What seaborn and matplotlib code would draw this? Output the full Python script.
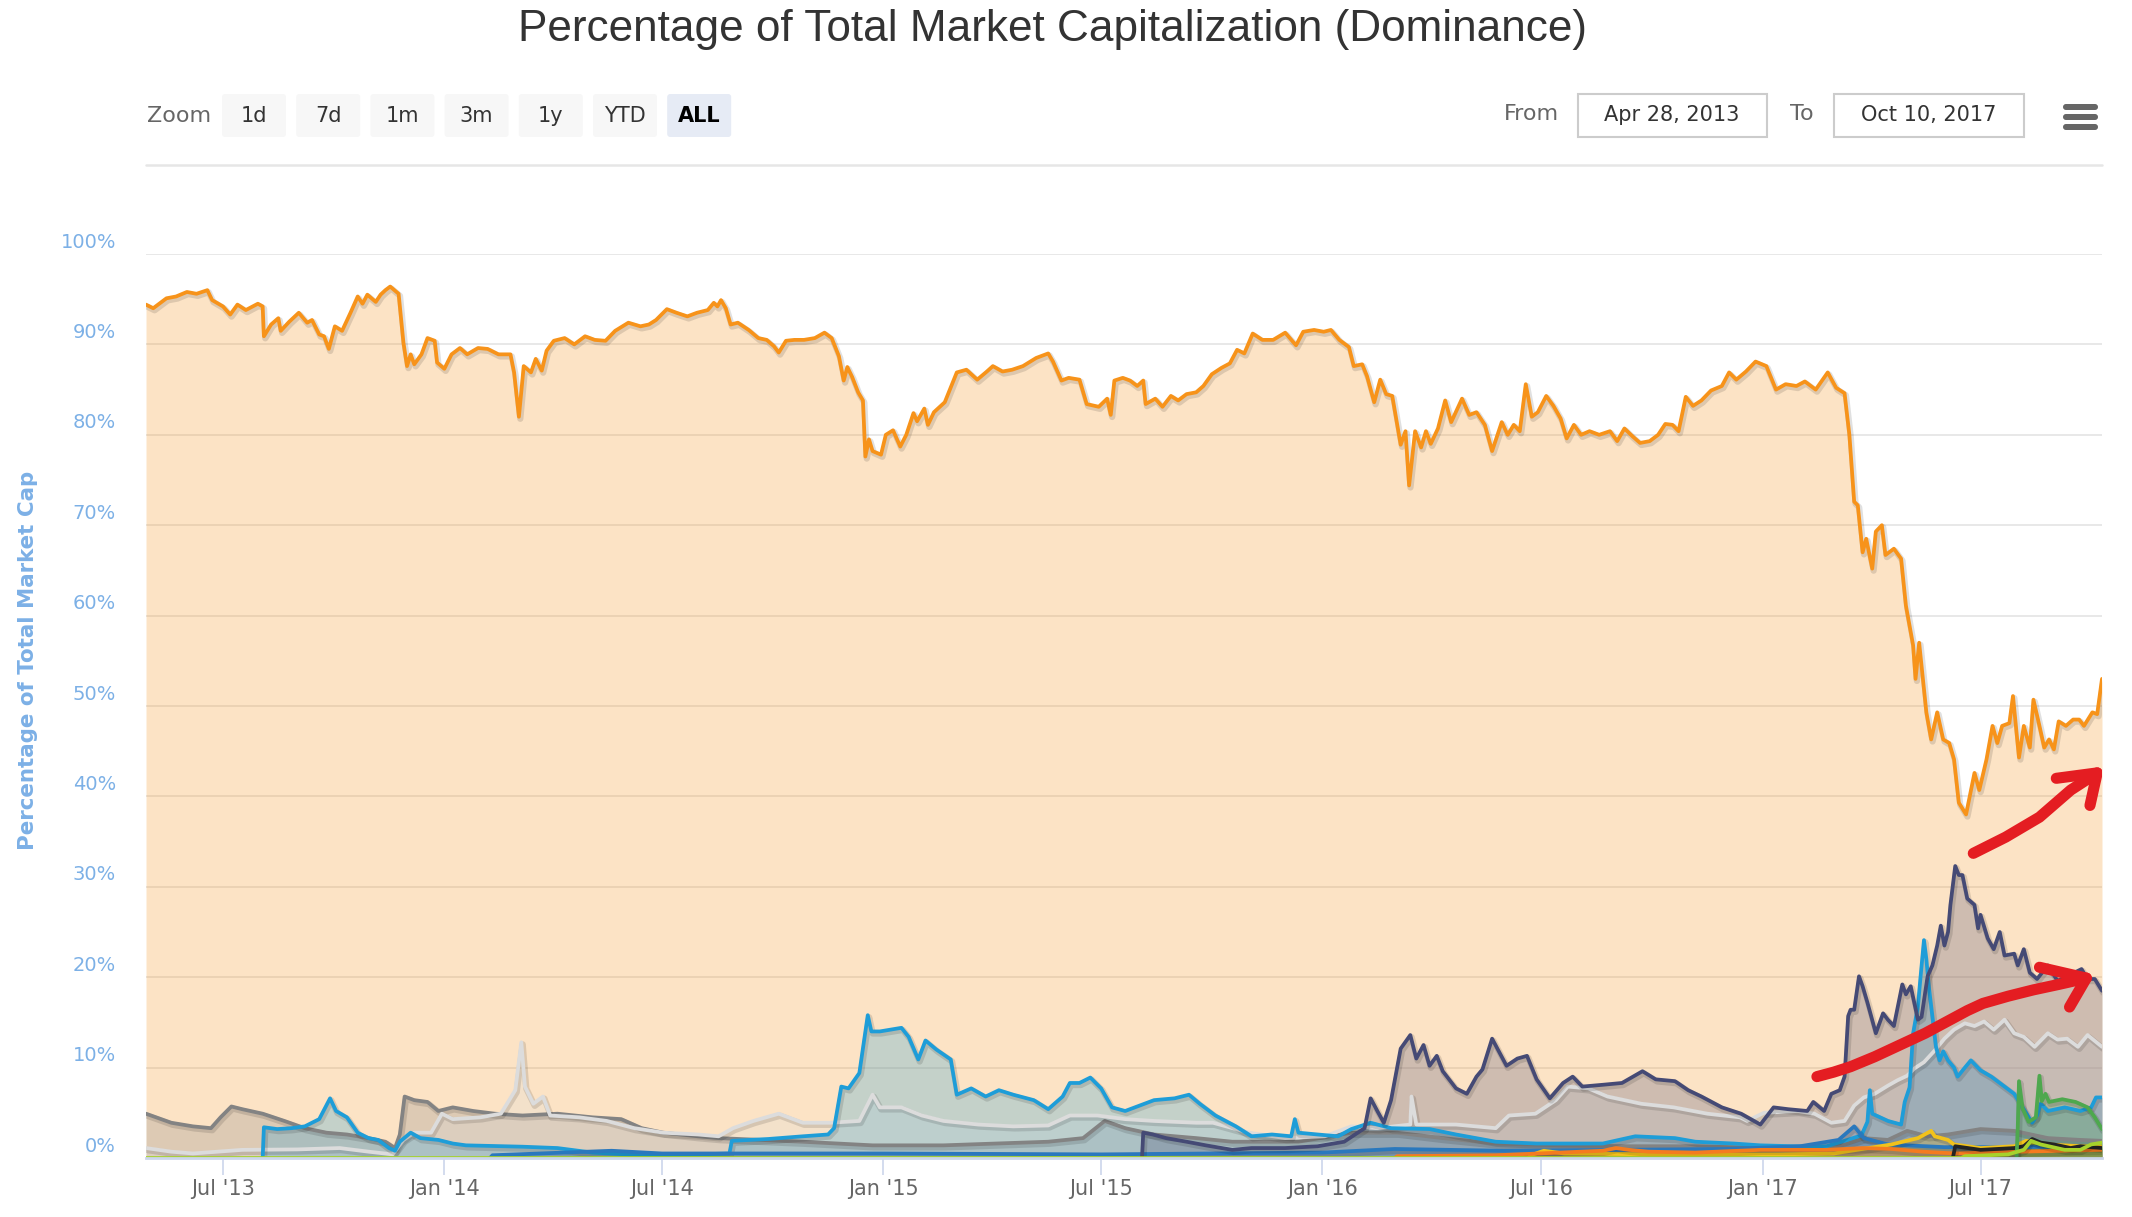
import pandas as pd
import matplotlib.pyplot as plt
import matplotlib.dates as mdates
import matplotlib.patheffects as pe
from matplotlib.patches import FancyBboxPatch, Rectangle
from matplotlib.transforms import ScaledTranslation
import seaborn as sns

START = pd.Timestamp("2013-04-28")

# Bitcoin dominance (%), x given as days after 28 Apr 2013
btc_day = [
    0, 6, 17, 25, 34, 42, 51, 55, 64, 70,
    76, 83, 93, 97, 98, 104, 110, 112, 119, 127,
    134, 138, 144, 148, 152, 157, 163, 170, 176, 180,
    184, 191, 195, 199, 203, 210, 214, 217, 220, 223,
    229, 234, 240, 242, 248, 254, 261, 267, 276, 284,
    293, 303, 306, 310, 314, 320, 324, 329, 333, 339,
    348, 356, 365, 373, 382, 390, 401, 411, 418, 424,
    433, 441, 450, 458, 467, 472, 475, 478, 482, 486,
    492, 501, 509, 516, 522, 526, 532, 539, 547, 556,
    564, 570, 576, 580, 583, 587, 592, 596, 598, 601,
    604, 611, 615, 621, 627, 632, 638, 641, 647, 650,
    655, 664, 674, 682, 691, 699, 704, 712, 720, 729,
    740, 750, 754, 761, 767, 776, 782, 792, 799, 802,
    805, 812, 818, 824, 829, 831, 839, 845, 852, 858,
    865, 873, 879, 886, 894, 901, 907, 913, 920, 928,
    937, 947, 956, 962, 971, 979, 985, 992, 1000, 1004,
    1011, 1015, 1021, 1026, 1031, 1036, 1043, 1047, 1050, 1055,
    1060, 1064, 1068, 1074, 1080, 1085, 1094, 1100, 1106, 1113,
    1119, 1127, 1132, 1137, 1142, 1147, 1152, 1157, 1164, 1170,
    1176, 1181, 1187, 1193, 1200, 1208, 1217, 1223, 1229, 1236,
    1242, 1250, 1257, 1263, 1269, 1274, 1280, 1286, 1293, 1301,
    1310, 1316, 1322, 1330, 1338, 1347, 1355, 1363, 1372, 1379,
    1388, 1398, 1405, 1412, 1416, 1420, 1423, 1427, 1430, 1435,
    1438, 1443, 1446, 1453, 1459, 1463, 1469, 1471, 1474, 1480,
    1484, 1489, 1494, 1499, 1503, 1507, 1513, 1520, 1524, 1530,
    1535, 1539, 1543, 1549, 1552, 1557, 1561, 1566, 1569, 1574,
    1578, 1582, 1586, 1590, 1596, 1602, 1607, 1611, 1618, 1622,
    1626]
btc_share = [
    94.4, 94.0, 95.1, 95.3, 95.8, 95.6, 96.0, 94.9, 94.2, 93.3,
    94.4, 93.8, 94.5, 94.2, 90.9, 92.2, 92.9, 91.5, 92.5, 93.5,
    92.4, 92.7, 91.1, 90.9, 89.5, 92.0, 91.5, 93.5, 95.3, 94.5,
    95.5, 94.7, 95.5, 96.0, 96.4, 95.6, 90.2, 87.6, 88.9, 87.8,
    88.9, 90.7, 90.4, 88.0, 87.3, 88.9, 89.6, 88.9, 89.6, 89.5,
    88.9, 88.9, 86.9, 82.0, 87.6, 86.9, 88.4, 87.1, 89.3, 90.4,
    90.7, 90.0, 90.9, 90.5, 90.4, 91.5, 92.4, 92.0, 92.2, 92.7,
    93.9, 93.5, 93.1, 93.5, 93.8, 94.6, 94.2, 94.9, 94.0, 92.2,
    92.4, 91.6, 90.7, 90.5, 89.8, 89.1, 90.4, 90.5, 90.5, 90.7,
    91.3, 90.7, 88.7, 86.0, 87.5, 86.4, 84.7, 83.8, 77.6, 79.5,
    78.2, 77.8, 80.0, 80.5, 78.7, 80.0, 82.4, 81.5, 82.9, 81.1,
    82.5, 83.6, 86.9, 87.2, 86.1, 87.0, 87.6, 87.0, 87.2, 87.6,
    88.5, 89.0, 88.1, 86.0, 86.3, 86.1, 83.4, 83.1, 84.0, 82.2,
    86.0, 86.3, 86.0, 85.4, 86.0, 83.4, 84.0, 83.1, 84.3, 83.8,
    84.5, 84.7, 85.4, 86.7, 87.4, 87.9, 89.4, 89.0, 91.2, 90.5,
    90.5, 91.3, 89.9, 91.4, 91.6, 91.4, 91.6, 90.5, 89.7, 87.6,
    87.8, 86.5, 83.6, 86.1, 84.5, 84.3, 78.9, 80.4, 74.4, 80.4,
    78.6, 80.4, 79.0, 80.7, 83.8, 81.4, 84.0, 82.2, 82.5, 81.1,
    78.2, 81.4, 80.0, 81.1, 80.4, 85.6, 82.0, 82.5, 84.3, 83.2,
    81.8, 79.6, 81.1, 80.0, 80.4, 80.0, 80.4, 79.3, 80.7, 79.8,
    79.1, 79.3, 80.0, 81.2, 81.1, 80.4, 84.2, 83.2, 83.8, 84.9,
    85.4, 86.9, 86.1, 87.0, 88.1, 87.6, 85.0, 85.6, 85.4, 85.9,
    85.0, 86.9, 85.2, 84.6, 80.0, 72.6, 72.2, 67.0, 68.5, 65.2,
    69.3, 70.0, 66.7, 67.4, 66.3, 61.1, 56.7, 53.0, 57.0, 49.3,
    46.3, 49.3, 46.3, 45.9, 44.1, 39.3, 38.0, 42.6, 40.7, 44.1,
    47.8, 45.9, 47.8, 48.1, 51.1, 44.3, 47.8, 45.4, 50.7, 47.8,
    45.4, 46.3, 45.2, 48.3, 47.8, 48.5, 48.5, 47.8, 49.3, 49.1,
    53.0]

eth_dates = [
    "2015-08-04", "2015-08-05", "2015-08-13", "2015-08-24", "2015-09-10", "2015-09-26", "2015-10-18", "2015-11-03", "2015-12-01", "2015-12-28",
    "2016-01-19", "2016-02-05", "2016-02-10", "2016-02-16", "2016-02-21", "2016-02-27", "2016-03-06", "2016-03-14", "2016-03-19", "2016-03-25",
    "2016-03-30", "2016-04-05", "2016-04-10", "2016-04-21", "2016-04-30", "2016-05-08", "2016-05-13", "2016-05-21", "2016-05-27", "2016-06-02",
    "2016-06-11", "2016-06-19", "2016-06-27", "2016-07-08", "2016-07-19", "2016-07-27", "2016-08-04", "2016-08-21", "2016-09-06", "2016-09-23",
    "2016-10-04", "2016-10-20", "2016-10-31", "2016-11-11", "2016-11-28", "2016-12-14", "2016-12-30", "2017-01-10", "2017-01-22", "2017-02-07",
    "2017-02-12", "2017-02-21", "2017-02-27", "2017-03-06", "2017-03-10", "2017-03-13", "2017-03-15", "2017-03-18", "2017-03-22", "2017-03-25",
    "2017-03-29", "2017-04-05", "2017-04-11", "2017-04-15", "2017-04-20", "2017-04-27", "2017-04-30", "2017-05-04", "2017-05-10", "2017-05-13",
    "2017-05-18", "2017-05-22", "2017-05-26", "2017-05-29", "2017-06-01", "2017-06-04", "2017-06-06", "2017-06-10", "2017-06-13", "2017-06-16",
    "2017-06-20", "2017-06-26", "2017-06-29", "2017-07-01", "2017-07-07", "2017-07-12", "2017-07-17", "2017-07-21", "2017-07-29", "2017-08-01",
    "2017-08-06", "2017-08-11", "2017-08-17", "2017-08-26", "2017-09-03", "2017-09-11", "2017-09-23", "2017-09-28", "2017-10-04", "2017-10-10"]
eth_share = [
    0.0, 2.8, 2.6, 2.2, 1.8, 1.4, 0.9, 1.1, 1.1, 1.3,
    1.8, 3.3, 6.6, 5.1, 3.9, 6.4, 12.1, 13.6, 11.0, 12.5,
    10.2, 11.3, 9.6, 7.7, 7.1, 9.0, 9.8, 13.2, 11.7, 10.2,
    11.0, 11.3, 8.7, 6.6, 8.3, 9.0, 7.9, 8.1, 8.3, 9.6,
    8.7, 8.5, 7.5, 6.8, 5.6, 4.9, 3.7, 5.6, 5.4, 5.2,
    6.2, 5.2, 7.1, 7.5, 9.0, 15.7, 16.4, 16.4, 20.1, 19.0,
    17.2, 13.8, 16.0, 15.3, 14.6, 19.2, 18.1, 19.0, 15.3, 15.6,
    20.1, 21.3, 23.5, 25.7, 23.5, 25.0, 28.0, 32.3, 31.3, 31.3,
    28.7, 28.0, 25.4, 26.9, 24.3, 23.1, 25.0, 22.4, 22.6, 21.3,
    23.1, 20.5, 19.8, 21.3, 19.6, 20.1, 20.9, 19.8, 19.8, 18.5]

xrp_dates = [
    "2013-08-03", "2013-08-04", "2013-08-15", "2013-08-27", "2013-09-07", "2013-09-19", "2013-09-28", "2013-10-03", "2013-10-12", "2013-10-21",
    "2013-10-30", "2013-11-07", "2013-11-16", "2013-11-21", "2013-11-25", "2013-12-04", "2013-12-12", "2013-12-27", "2014-01-08", "2014-01-19",
    "2014-03-07", "2014-04-05", "2014-05-04", "2014-06-02", "2014-07-02", "2014-07-31", "2014-08-26", "2014-08-28", "2014-09-27", "2014-10-26",
    "2014-11-16", "2014-11-21", "2014-11-27", "2014-12-03", "2014-12-12", "2014-12-19", "2014-12-22", "2014-12-29", "2015-01-07", "2015-01-16",
    "2015-01-22", "2015-01-30", "2015-02-05", "2015-02-14", "2015-02-26", "2015-03-03", "2015-03-15", "2015-03-27", "2015-04-07", "2015-04-19",
    "2015-05-06", "2015-05-18", "2015-05-30", "2015-06-05", "2015-06-13", "2015-06-22", "2015-07-01", "2015-07-10", "2015-07-21", "2015-08-02",
    "2015-08-14", "2015-08-31", "2015-09-12", "2015-09-21", "2015-10-04", "2015-10-21", "2015-11-03", "2015-11-20", "2015-12-06", "2015-12-09",
    "2015-12-12", "2015-12-28", "2016-01-14", "2016-01-25", "2016-02-10", "2016-02-27", "2016-03-30", "2016-04-21", "2016-05-24", "2016-06-27",
    "2016-08-21", "2016-09-17", "2016-10-20", "2016-11-06", "2016-12-08", "2016-12-30", "2017-01-27", "2017-02-23", "2017-03-10", "2017-03-24",
    "2017-03-29", "2017-03-31", "2017-04-02", "2017-04-15", "2017-04-26", "2017-04-29", "2017-05-03", "2017-05-06", "2017-05-10", "2017-05-12",
    "2017-05-15", "2017-05-17", "2017-05-19", "2017-05-22", "2017-05-25", "2017-05-28", "2017-05-31", "2017-06-04", "2017-06-09", "2017-06-12",
    "2017-06-18", "2017-06-23", "2017-07-01", "2017-07-10", "2017-07-18", "2017-07-29", "2017-08-06", "2017-08-13", "2017-08-17", "2017-08-20",
    "2017-08-26", "2017-09-09", "2017-09-22", "2017-10-01", "2017-10-05", "2017-10-10"]
xrp_share = [
    0.0, 3.4, 3.2, 3.3, 3.5, 4.3, 6.6, 5.2, 4.5, 2.8,
    2.2, 2.0, 1.1, 0.8, 1.8, 2.8, 2.2, 2.0, 1.6, 1.4,
    1.25, 1.1, 0.6, 0.4, 0.3, 0.4, 0.5, 1.9, 2.1, 2.4,
    2.6, 3.3, 7.9, 7.7, 9.4, 15.8, 14.0, 14.0, 14.2, 14.4,
    13.4, 10.9, 13.0, 12.0, 10.9, 7.0, 7.7, 6.8, 7.5, 7.0,
    6.4, 5.4, 6.8, 8.3, 8.3, 8.9, 7.7, 5.6, 5.2, 5.8,
    6.4, 6.6, 7.0, 6.0, 4.7, 3.5, 2.4, 2.6, 2.4, 4.3,
    2.8, 2.6, 2.4, 3.2, 3.9, 3.3, 3.2, 2.6, 1.8, 1.6,
    1.6, 2.4, 2.2, 1.8, 1.6, 1.4, 1.3, 1.3, 1.9, 2.5,
    4.0, 7.5, 4.9, 4.1, 3.7, 6.2, 7.8, 13.8, 16.8, 19.8,
    24.1, 22.0, 19.0, 15.7, 12.3, 10.8, 11.8, 10.8, 10.0, 9.0,
    10.0, 10.8, 9.7, 9.0, 8.2, 7.1, 5.4, 3.9, 4.7, 6.0,
    5.2, 5.6, 5.2, 5.6, 6.7, 6.7]

others_dates = [
    "2013-04-28", "2013-05-19", "2013-06-06", "2013-07-17", "2013-09-01", "2013-10-06", "2013-10-30", "2013-11-19", "2013-11-28", "2013-12-07",
    "2013-12-21", "2013-12-30", "2014-01-08", "2014-01-31", "2014-02-17", "2014-03-01", "2014-03-06", "2014-03-09", "2014-03-16", "2014-03-24",
    "2014-03-30", "2014-04-23", "2014-05-16", "2014-06-08", "2014-07-02", "2014-07-31", "2014-08-17", "2014-08-29", "2014-09-15", "2014-10-06",
    "2014-10-26", "2014-11-18", "2014-12-12", "2014-12-23", "2014-12-29", "2015-01-16", "2015-02-02", "2015-02-20", "2015-03-21", "2015-04-19",
    "2015-05-18", "2015-06-05", "2015-06-28", "2015-07-21", "2015-08-14", "2015-09-18", "2015-10-02", "2015-11-01", "2015-12-01", "2016-01-03",
    "2016-01-25", "2016-02-16", "2016-03-14", "2016-03-15", "2016-03-19", "2016-04-21", "2016-05-24", "2016-06-04", "2016-06-26", "2016-07-13",
    "2016-07-23", "2016-08-09", "2016-08-25", "2016-09-22", "2016-10-19", "2016-11-16", "2016-12-13", "2016-12-19", "2017-01-02", "2017-01-30",
    "2017-02-13", "2017-02-27", "2017-03-10", "2017-03-18", "2017-03-26", "2017-04-04", "2017-04-15", "2017-04-23", "2017-05-01", "2017-05-07",
    "2017-05-15", "2017-05-24", "2017-06-01", "2017-06-09", "2017-06-18", "2017-06-26", "2017-07-04", "2017-07-12", "2017-07-21", "2017-07-29",
    "2017-08-06", "2017-08-15", "2017-08-26", "2017-09-03", "2017-09-11", "2017-09-20", "2017-09-28", "2017-10-10"]
others_share = [
    1.1, 0.7, 0.5, 0.9, 0.95, 1.1, 0.7, 0.4, 2.0, 2.8,
    2.8, 4.9, 4.3, 4.5, 4.9, 7.5, 12.8, 7.9, 6.0, 6.8,
    4.7, 4.5, 4.1, 3.3, 2.8, 2.6, 2.4, 3.3, 4.1, 4.9,
    3.9, 3.9, 4.1, 7.0, 5.6, 5.6, 4.7, 4.1, 3.7, 3.5,
    3.6, 4.7, 4.7, 4.3, 4.1, 3.9, 3.9, 2.8, 2.2, 2.4,
    3.5, 3.3, 3.7, 6.8, 3.7, 3.7, 3.3, 4.7, 4.9, 6.4,
    7.9, 7.7, 6.8, 6.0, 5.6, 4.9, 4.5, 4.1, 5.0, 5.2,
    4.9, 3.9, 4.1, 5.8, 6.7, 7.1, 8.0, 8.6, 9.1, 9.9,
    10.6, 11.9, 13.2, 14.2, 14.9, 14.6, 15.1, 14.2, 15.3, 13.8,
    13.4, 12.3, 13.8, 13.1, 13.2, 12.3, 13.6, 12.3]

ltc_dates = [
    "2013-04-28", "2013-05-19", "2013-06-06", "2013-06-21", "2013-06-29", "2013-07-08", "2013-07-17", "2013-08-03", "2013-08-21", "2013-09-07",
    "2013-09-25", "2013-10-12", "2013-10-30", "2013-11-13", "2013-11-21", "2013-11-25", "2013-11-29", "2013-12-07", "2013-12-18", "2013-12-27",
    "2014-01-08", "2014-01-25", "2014-02-12", "2014-03-07", "2014-04-05", "2014-05-04", "2014-05-28", "2014-06-14", "2014-07-02", "2014-07-31",
    "2014-08-17", "2014-10-26", "2014-12-23", "2015-02-20", "2015-05-18", "2015-06-16", "2015-07-04", "2015-07-21", "2015-08-14", "2015-09-18",
    "2015-10-18", "2015-12-12", "2016-01-25", "2016-03-03", "2016-04-10", "2016-05-24", "2016-07-19", "2016-09-12", "2016-11-06", "2016-12-30",
    "2017-02-23", "2017-03-10", "2017-03-26", "2017-04-15", "2017-05-01", "2017-05-18", "2017-06-04", "2017-07-01", "2017-07-29", "2017-08-26",
    "2017-09-22", "2017-10-10"]
ltc_share = [
    4.9, 3.9, 3.5, 3.3, 4.5, 5.7, 5.4, 4.9, 4.1, 3.3,
    2.8, 2.6, 2.2, 1.8, 1.1, 2.6, 6.8, 6.4, 6.2, 5.2,
    5.6, 5.2, 4.9, 4.7, 4.9, 4.5, 4.3, 3.3, 2.8, 2.4,
    2.2, 1.8, 1.4, 1.4, 1.8, 2.2, 4.1, 3.3, 2.6, 2.2,
    1.8, 1.8, 2.8, 2.8, 2.2, 1.6, 1.4, 1.3, 1.3, 1.1,
    1.1, 1.5, 2.2, 2.0, 3.0, 2.4, 2.6, 3.2, 3.0, 2.2,
    2.0, 1.9]

dash_dates = ["2014-02-08", "2014-02-10", "2014-05-20", "2014-07-01", "2015-01-01", "2015-07-01", "2016-01-01", "2016-03-01",
              "2016-06-01", "2016-12-01", "2017-02-01", "2017-03-05", "2017-03-18", "2017-03-26", "2017-04-15", "2017-06-01",
              "2017-08-01", "2017-10-10"]
dash_share = [0.0, 0.3, 0.8, 0.5, 0.5, 0.4, 0.6, 1.0, 0.8, 1.0, 1.3, 2.0, 3.5, 2.2, 1.5, 1.2, 1.2, 1.3]

nem_dates = ["2016-06-20", "2016-06-22", "2016-07-03", "2016-07-20", "2016-10-01", "2017-01-15", "2017-03-01", "2017-04-18",
             "2017-05-10", "2017-05-21", "2017-05-24", "2017-06-04", "2017-06-09", "2017-07-01", "2017-07-29", "2017-08-08",
             "2017-08-26", "2017-09-22", "2017-10-10"]
nem_share = [0.0, 0.3, 0.8, 0.5, 0.4, 0.4, 0.5, 1.5, 2.2, 3.0, 2.4, 2.0, 1.5, 1.1, 1.3, 1.9, 1.5, 1.3, 1.3]

xmr_dates = ["2016-03-01", "2016-03-03", "2016-05-24", "2016-08-21", "2016-09-01", "2016-09-12", "2016-09-28", "2016-11-06",
             "2016-12-30", "2017-02-23", "2017-03-25", "2017-04-18", "2017-05-14", "2017-06-10", "2017-08-03", "2017-10-10"]
xmr_share = [0.0, 0.2, 0.3, 0.8, 1.1, 0.9, 0.7, 0.6, 0.9, 0.9, 1.1, 1.0, 0.7, 0.5, 0.7, 0.9]

iota_dates = ["2017-06-08", "2017-06-10", "2017-07-01", "2017-07-29", "2017-08-06", "2017-08-13", "2017-08-20", "2017-08-31",
              "2017-09-14", "2017-09-22", "2017-10-10"]
iota_share = [0.0, 1.3, 0.9, 1.1, 1.3, 2.1, 1.7, 1.5, 1.1, 1.3, 1.1]

bch_dates = ["2017-07-31", "2017-08-01", "2017-08-02", "2017-08-05", "2017-08-10", "2017-08-16", "2017-08-19", "2017-08-21",
             "2017-08-24", "2017-08-27", "2017-09-07", "2017-09-18", "2017-09-28", "2017-10-04", "2017-10-10"]
bch_share = [0.0, 3.5, 8.5, 5.5, 4.0, 4.5, 9.1, 6.3, 7.1, 6.2, 6.5, 6.2, 5.6, 4.5, 3.2]

neo_dates = ["2013-04-28", "2017-06-15", "2017-06-18", "2017-07-24", "2017-08-06", "2017-08-12", "2017-08-20", "2017-09-09",
             "2017-09-22", "2017-10-01", "2017-10-10"]
neo_share = [0.0, 0.0, 0.2, 0.4, 0.9, 1.9, 1.5, 0.9, 0.9, 1.5, 1.7]

# hand drawn red arrows on the screenshot
arrow1_dates = ["2017-06-25", "2017-07-22", "2017-08-19", "2017-09-14", "2017-10-06"]
arrow1_pct = [33.7, 35.5, 37.7, 40.7, 42.6]
arrow1_head_dates = ["2017-09-02", "2017-10-06", "2017-09-30"]
arrow1_head_pct = [42.0, 42.6, 39.0]
arrow2_dates = ["2017-02-15", "2017-03-01", "2017-03-15", "2017-04-04", "2017-04-25", "2017-05-16", "2017-06-06",
                "2017-06-20", "2017-07-03", "2017-07-24", "2017-08-14", "2017-09-04", "2017-09-24", "2017-09-27"]
arrow2_pct = [9.0, 9.5, 10.1, 11.2, 12.5, 13.8, 15.3, 16.3, 17.1, 17.9, 18.6, 19.2, 19.8, 19.9]
arrow2_head_dates = ["2017-08-19", "2017-09-27", "2017-09-13"]
arrow2_head_pct = [21.1, 19.9, 16.7]

btc_dates = list(START + pd.to_timedelta(btc_day, unit="D"))

series = [
    ("Bitcoin", btc_dates, btc_share, "#f7931a"),
    ("Litecoin", ltc_dates, ltc_share, "#838383"),
    ("Others", others_dates, others_share, "#dcdcdc"),
    ("Ripple", xrp_dates, xrp_share, "#1e9dd8"),
    ("Dash", dash_dates, dash_share, "#2a78bd"),
    ("Ethereum", eth_dates, eth_share, "#454a75"),
    ("NEM", nem_dates, nem_share, "#f2c21b"),
    ("Monero", xmr_dates, xmr_share, "#f47b20"),
    ("IOTA", iota_dates, iota_share, "#242424"),
    ("Bitcoin Cash", bch_dates, bch_share, "#4ea84e"),
    ("NEO", neo_dates, neo_share, "#a6d22c"),
]

rows = []
for name, dates, vals, _ in series:
    for d, v in zip(dates, vals):
        rows.append({"Date": pd.Timestamp(d), "Share": v, "Coin": name})
df = pd.DataFrame(rows)

sns.set_style("white")
plt.rcParams['font.family'] = ['DejaVu Sans']

W, H = 2132, 1217
fig = plt.figure(figsize=(W / 100, H / 100), dpi=100)

# pixel overlay for the highcharts toolbar / titles
ui = fig.add_axes([0, 0, 1, 1])
ui.set_xlim(0, W)
ui.set_ylim(H, 0)
ui.axis('off')

ax = fig.add_axes([146 / W, 1 - 1158 / H, (2102 - 146) / W, (1158 - 254) / H])
ax.set_facecolor('none')

for name, dates, vals, col in series:
    ax.fill_between(pd.to_datetime(dates), vals, 0, color=col, alpha=0.25, lw=0, zorder=1)

palette = {name: col for name, _, _, col in series}
sns.lineplot(data=df, x="Date", y="Share", hue="Coin", hue_order=[s[0] for s in series],
             palette=palette, estimator=None, sort=False, legend=False, linewidth=2.7, ax=ax,
             path_effects=[pe.SimpleLineShadow(offset=(1, -1.5), shadow_color='black', alpha=0.12, linewidth=4.5),
                           pe.Normal()])

# red annotation arrows
red = "#e41d22"
for xs, ys in [(arrow1_dates, arrow1_pct), (arrow1_head_dates, arrow1_head_pct),
               (arrow2_dates, arrow2_pct), (arrow2_head_dates, arrow2_head_pct)]:
    ax.plot(pd.to_datetime(xs), ys, color=red, lw=8, solid_capstyle='round', solid_joinstyle='round', zorder=6)

ax.set_xlim(pd.Timestamp("2013-04-28"), pd.Timestamp("2017-10-10"))
ax.set_ylim(0, 100)
ax.set_xlabel("")
ax.set_ylabel("")
ax.set_yticks(range(0, 101, 10))
ax.set_yticklabels([])
ax.grid(axis='y', color='#e6e6e6', lw=1.3)
ax.grid(axis='x', visible=False)
ax.set_axisbelow(True)
ax.xaxis.set_major_locator(mdates.MonthLocator(bymonth=[1, 7]))
ax.xaxis.set_major_formatter(mdates.DateFormatter("%b '%y"))
ax.tick_params(axis='x', bottom=True, length=12, width=1.2, color='#ccd6eb', labelsize=15,
               labelcolor='#666666', pad=3)
ax.tick_params(axis='y', length=0)
for s in ['top', 'left', 'right']:
    ax.spines[s].set_visible(False)
ax.spines['bottom'].set_color('#ccd6eb')
ax.spines['bottom'].set_linewidth(2)

ylab_tr = ax.get_yaxis_transform() + ScaledTranslation(-0.30, 0.12, fig.dpi_scale_trans)
for v in range(0, 101, 10):
    ax.text(0, v, f"{v}%", transform=ylab_tr, ha='right', va='center', fontsize=14, color='#7cb0e6')

ui.text(28, 660, "Percentage of Total Market Cap", rotation=90, ha='center', va='center',
        fontsize=15.4, fontweight='bold', color='#7cb0e6')

# title
ui.text(1052, 30, "Percentage of Total Market Capitalization (Dominance)", ha='center', va='center',
        fontsize=31.8, color='#333333', family='Liberation Sans')

# range selector
ui.text(147, 116, "Zoom", ha='left', va='center', fontsize=16, color='#666666')
buttons = ["1d", "7d", "1m", "3m", "1y", "YTD", "ALL"]
for i, lab in enumerate(buttons):
    x0 = 222 + i * 74.2
    sel = lab == "ALL"
    ui.add_patch(FancyBboxPatch((x0, 94), 64, 43, boxstyle="round,pad=0,rounding_size=3",
                                fc='#e6ebf5' if sel else '#f7f7f7', ec='none'))
    ui.text(x0 + 32, 116, lab, ha='center', va='center', fontsize=15,
            color='black' if sel else '#333333', fontweight='bold' if sel else 'normal')

ui.text(1504, 114, "From", ha='left', va='center', fontsize=16, color='#666666')
ui.add_patch(Rectangle((1578, 94), 189, 43, fc='white', ec='#cccccc', lw=1.5))
ui.text(1672, 115, "Apr 28, 2013", ha='center', va='center', fontsize=15, color='#333333')
ui.text(1790, 114, "To", ha='left', va='center', fontsize=16, color='#666666')
ui.add_patch(Rectangle((1834, 94), 190, 43, fc='white', ec='#cccccc', lw=1.5))
ui.text(1929, 115, "Oct 10, 2017", ha='center', va='center', fontsize=15, color='#333333')
for i in range(3):
    ui.add_patch(FancyBboxPatch((2063, 104 + i * 10), 35, 6, boxstyle="round,pad=0,rounding_size=3",
                                fc='#666666', ec='none'))
ui.plot([146, 2102], [165, 165], color='#e6e6e6', lw=1.8)

fig.savefig("out.png", dpi=100)
